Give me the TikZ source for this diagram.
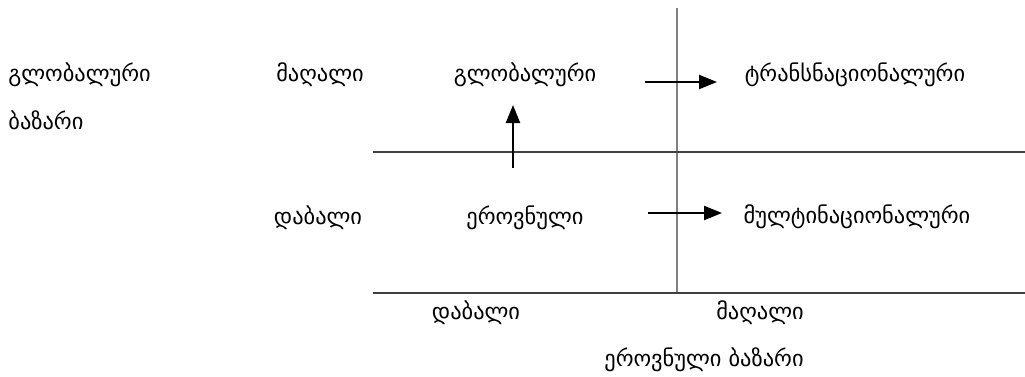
\documentclass[tikz,border=0pt]{standalone}
\usepackage{fontspec}
\usepackage{xcolor}
\usepackage{tikz}
\usetikzlibrary{positioning, arrows.meta}
\newfontfamily\geofont{DejaVu Sans}
\definecolor{gridgray}{HTML}{808080}
\definecolor{axisgray}{HTML}{404040}

\tikzset{
    geotext/.style={font=\geofont\fontsize{11.2}{13}\selectfont, inner sep=0pt},
    movearrow/.style={-{Triangle[length=9pt, width=7pt]}, line width=1.1pt},
}

\begin{document}
\begin{tikzpicture}[x=0.5pt, y=-0.5pt]
    \useasboundingbox (0,0) rectangle (1025,376);
    % axes
    \coordinate (top) at (677,8);
    \coordinate (bottom) at (677,293);
    \coordinate (midleft) at (373,152);
    \coordinate (midright) at (1025,152);
    \coordinate (baseleft) at (373,293);
    \coordinate (baseright) at (1025,293);
    \draw[gridgray, line width=0.6pt] (top) -- (bottom);
    \draw[axisgray, line width=0.6pt] (midleft) -- (midright);
    \draw[axisgray, line width=1.1pt] (baseleft) -- (baseright);

    \node[geotext, anchor=west] (globmarket) at (8,75) {გლობალური};
    \node[geotext, anchor=west] (globmarket2) at (8,120) {ბაზარი};
    \node[geotext] (high) at (320,75) {მაღალი};
    \node[geotext] (low) at (318,218) {დაბალი};

    \node[geotext] (global) at (525,75) {გლობალური};
    \node[geotext] (transnat) at (855,75) {ტრანსნაციონალური};
    \node[geotext] (national) at (525,218) {ეროვნული};
    \node[geotext] (multinat) at (857,217) {მულტინაციონალური};

    \node[geotext] (lowx) at (476,313) {დაბალი};
    \node[geotext] (highx) at (760,313) {მაღალი};
    \node[geotext] (natmarket) at (704,360) {ეროვნული ბაზარი};

    % shifts between strategies
    \coordinate (upfrom) at (513,168);
    \coordinate (upto) at (513,105);
    \coordinate (topfrom) at (645,82);
    \coordinate (topto) at (717,82);
    \coordinate (botfrom) at (648,213);
    \coordinate (botto) at (722,213);
    \draw[movearrow] (upfrom) -- (upto);
    \draw[movearrow] (topfrom) -- (topto);
    \draw[movearrow] (botfrom) -- (botto);
\end{tikzpicture}
\end{document}
